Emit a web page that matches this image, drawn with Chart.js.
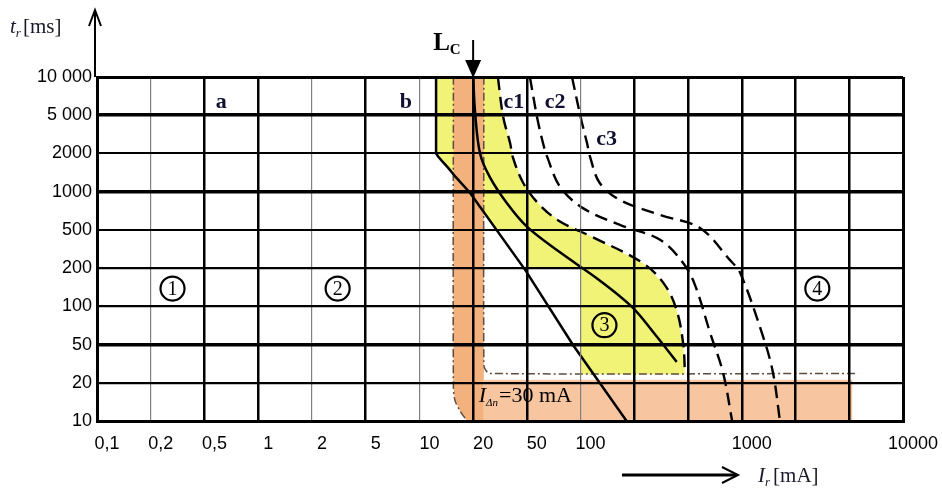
<!DOCTYPE html>
<html>
<head>
<meta charset="utf-8">
<script src="https://cdn.jsdelivr.net/npm/chart.js@4.4.1/dist/chart.umd.min.js"></script>
<style>
  html, body { margin: 0; padding: 0; background: #fff; }
  #wrap { width: 942px; height: 488px; }
</style>
</head>
<body>
<div id="wrap"><canvas id="chart" width="942" height="488"></canvas></div>
<script>
// grid steps (1-2-5 sequence, drawn evenly spaced)
const currentSteps = [0.1, 0.2, 0.5, 1, 2, 5, 10, 20, 50, 100, 200, 500, 1000, 2000, 5000, 10000];
const currentLabels = ['0,1', '0,2', '0,5', '1', '2', '5', '10', '20', '50', '100', '', '', '1000', '', '', '10000'];
const timeSteps = [10, 20, 50, 100, 200, 500, 1000, 2000, 5000, 10000];
const timeLabels = ['10', '20', '50', '100', '200', '500', '1000', '2000', '5 000', '10 000'];

// curves, [current mA, time ms]
const curveB = [[12.4, 10000], [12.4, 2000], [12.7, 1900], [13.4, 1740], [14.5, 1540], [16, 1300], [19.2, 980], [48.7, 193], [90.7, 49.5], [181, 10]];
const curveLc = [[20, 10000], [20.7, 5200], [22.5, 2000], [26.6, 1300], [35.6, 810], [50, 530], [77, 290], [128, 160], [194, 99], [285, 60], [412, 33]];
const curveC1 = [[30.5, 10000], [33.4, 4790], [37.6, 2550], [39.3, 1880], [47, 1170], [59, 785], [77, 580], [117, 420], [232, 225], [337, 147], [412, 93], [461, 50], [474, 25]];
const curveC2 = [[52, 10000], [57, 4790], [61.6, 2550], [65, 1880], [76.8, 1090], [103, 742], [166, 547], [310, 395], [461, 225], [547, 147], [665, 61.6], [785, 25.5], [883, 10]];
const curveC3 = [[89.5, 10000], [100, 4790], [108.7, 2550], [113, 1880], [128, 1170], [166, 860], [310, 655], [583, 518], [859, 242], [980, 183], [1320, 57], [1495, 25.5], [1636, 10]];

// zone 3 (between b and c1)
const zone3 = [[12.4, 10000], [30.5, 10000], [33.4, 4790], [37.6, 2550], [39.3, 1880], [47, 1170], [59, 785], [77, 580], [117, 420], [232, 225], [337, 147], [412, 93], [461, 50], [474, 24.5],
  [100, 24.5], [100, 200], [50, 200], [50, 500], [29.3, 500], [19.2, 980], [16, 1300], [14.5, 1540], [13.4, 1740], [12.7, 1900], [12.4, 2000]];

// RCD band, I_dn = 30 mA
const rcdVertical = [[15.5, 10000], [24, 10000], [24, 10], [18.5, 10], [16.9, 12], [15.8, 14.6], [15.5, 19]];
const rcdHorizontal = [[24, 21.5], [5200, 21.5], [5200, 10], [24, 10]];
const rcdOuter = [[15.5, 10000], [15.5, 19], [15.8, 14.6], [16.9, 12], [18.5, 10]];
const rcdInner = [[24, 10000], [24, 31], [24.6, 27.5], [26.6, 25], [5600, 25]];

// texts
const zoneNames = ['1', '2', '3', '4'];
const zoneX = [0.29, 3.1, 136, 2900];
const zoneY = [138, 138, 71, 138];
const curveNames = ['a', 'b', 'c1', 'c2', 'c3'];
const curveNameX = [0.62, 8.4, 40, 72, 140];
const curveNameY = [6600, 6600, 6600, 6600, 2970];
const lcCurrent = 20;

function stepIndex(v) {
  const d = Math.floor(Math.log10(v) + 1e-9);
  const m = v / Math.pow(10, d);
  let r;
  if (m < 2) r = Math.log(m) / Math.log(2);
  else if (m < 5) r = 1 + Math.log(m / 2) / Math.log(2.5);
  else r = 2 + Math.log(m / 5) / Math.log(2);
  return 3 * d + r;
}
function stepValue(i) {
  const d = Math.floor(i / 3);
  const r = i - 3 * d;
  const base = Math.pow(10, d);
  if (r < 1) return base * Math.pow(2, r);
  if (r < 2) return base * 2 * Math.pow(2.5, r - 1);
  return base * 5 * Math.pow(2, r - 2);
}

class Step125Scale extends Chart.LinearScale {
  static id = 'step125';
  static defaults = {};
  determineDataLimits() {
    this.min = this.options.min;
    this.max = this.options.max;
  }
  buildTicks() {
    const list = this.axis === 'x' ? currentSteps : timeSteps;
    this.start = this.min;
    this.end = this.max;
    return list.map(v => ({ value: v }));
  }
  getPixelForValue(v) {
    if (v === null || v === undefined) return NaN;
    const i0 = stepIndex(this.min), i1 = stepIndex(this.max);
    return this.getPixelForDecimal((stepIndex(v) - i0) / (i1 - i0));
  }
  getValueForPixel(p) {
    const i0 = stepIndex(this.min), i1 = stepIndex(this.max);
    return stepValue(i0 + this.getDecimalForPixel(p) * (i1 - i0));
  }
}
Chart.register(Step125Scale);

const pts = arr => arr.map(([x, y]) => ({ x, y }));

const xWeights = [3, 1.2, 2.5, 2.5, 1.2, 2.5, 1.2, 2.5, 2.5, 1.2, 2.5, 2.5, 2.5, 2.5, 2.5, 3];
const yWeights = [3, 2.2, 3.5, 2.2, 2.3, 2, 3.5, 2, 3.5, 3];
const tickFont = { family: 'Liberation Sans, Arial, sans-serif', size: 18 };
const serif = 'Liberation Serif, Times New Roman, serif';

function solid(data, order, tension) {
  return { data: pts(data), showLine: true, borderColor: '#000', borderWidth: 2.5, pointRadius: 0, tension, fill: false, order };
}
function dashed(data, order) {
  return { data: pts(data), showLine: true, borderColor: '#000', borderWidth: 2.4, borderDash: [13, 7], pointRadius: 0, tension: 0.35, fill: false, order };
}
function area(data, color, order) {
  return { data: pts(data), showLine: true, borderWidth: 0, borderColor: 'rgba(0,0,0,0)', backgroundColor: color, pointRadius: 0, tension: 0, fill: 'shape', order };
}
function dashDot(data, order) {
  return { data: pts(data), showLine: true, borderColor: '#5e4c40', borderWidth: 1.5, borderDash: [8, 3, 2, 3], pointRadius: 0, tension: 0.3, fill: false, order };
}

function textRuns(ctx, x, y, runs) {
  runs.forEach(r => {
    ctx.font = r.font;
    ctx.fillText(r.t, x, y + (r.dy || 0));
    x += ctx.measureText(r.t).width + (r.gap || 0);
  });
}

const decor = {
  id: 'decor',
  afterDraw(chart) {
    const { ctx, chartArea: a, scales: { x, y } } = chart;
    ctx.save();
    ctx.strokeStyle = '#000';
    ctx.fillStyle = '#000';
    ctx.lineCap = 'butt';

    // y axis arrow
    ctx.lineWidth = 2;
    ctx.beginPath();
    ctx.moveTo(a.left - 2, a.top);
    ctx.lineTo(a.left - 2, 11);
    ctx.stroke();
    ctx.beginPath();
    ctx.moveTo(a.left - 8, 26);
    ctx.lineTo(a.left - 2, 10);
    ctx.lineTo(a.left + 4, 26);
    ctx.stroke();

    // x axis arrow
    ctx.lineWidth = 3;
    ctx.beginPath();
    ctx.moveTo(622, 475);
    ctx.lineTo(736, 475);
    ctx.stroke();
    ctx.lineWidth = 2;
    ctx.beginPath();
    ctx.moveTo(722, 467);
    ctx.lineTo(738, 475);
    ctx.lineTo(722, 483);
    ctx.stroke();

    // axis titles
    ctx.textAlign = 'left';
    ctx.textBaseline = 'alphabetic';
    ctx.fillStyle = '#1a1a2a';
    textRuns(ctx, 10, 33, [
      { t: 't', font: 'italic 21px ' + serif },
      { t: 'r', font: 'italic 13px ' + serif, dy: 4, gap: 2 },
      { t: '[ms]', font: '21px ' + serif }
    ]);
    textRuns(ctx, 758, 482, [
      { t: 'I', font: 'italic 21px ' + serif },
      { t: 'r', font: 'italic 13px ' + serif, dy: 4, gap: 3 },
      { t: '[mA]', font: '21px ' + serif }
    ]);

    // L_C marker
    const lx = x.getPixelForValue(lcCurrent);
    ctx.fillStyle = '#000';
    ctx.lineWidth = 2;
    ctx.beginPath();
    ctx.moveTo(lx, 40);
    ctx.lineTo(lx, a.top - 14);
    ctx.stroke();
    ctx.beginPath();
    ctx.moveTo(lx - 8, a.top - 17);
    ctx.lineTo(lx + 8, a.top - 17);
    ctx.lineTo(lx, a.top + 1);
    ctx.closePath();
    ctx.fill();
    textRuns(ctx, lx - 40, 50, [
      { t: 'L', font: 'bold 25px ' + serif },
      { t: 'C', font: 'bold 15px ' + serif, dy: 4 }
    ]);

    // curve names
    ctx.textAlign = 'center';
    ctx.font = 'bold 22px ' + serif;
    ctx.fillStyle = '#101030';
    curveNames.forEach((n, i) => {
      ctx.fillText(n, x.getPixelForValue(curveNameX[i]), y.getPixelForValue(curveNameY[i]) + 8);
    });

    // zone numbers
    ctx.fillStyle = '#000';
    ctx.textBaseline = 'middle';
    zoneNames.forEach((n, i) => {
      const cx = x.getPixelForValue(zoneX[i]);
      const cy = y.getPixelForValue(zoneY[i]);
      ctx.lineWidth = 2.2;
      ctx.beginPath();
      ctx.arc(cx, cy, 12, 0, Math.PI * 2);
      ctx.stroke();
      ctx.font = '20px ' + serif;
      ctx.fillText(n, cx, cy + 1);
    });

    // rated residual current
    ctx.textAlign = 'left';
    ctx.textBaseline = 'alphabetic';
    textRuns(ctx, x.getPixelForValue(22), y.getPixelForValue(14), [
      { t: 'I', font: 'italic 22px ' + serif },
      { t: 'Δn', font: 'italic 11px ' + serif, dy: 4, gap: 1 },
      { t: '=30 mA', font: '22px ' + serif }
    ]);
    ctx.restore();
  }
};

new Chart(document.getElementById('chart'), {
  type: 'scatter',
  data: {
    datasets: [
      area(zone3, 'rgb(240,243,118)', 20),
      area(rcdVertical, 'rgb(243,177,125)', 19),
      area(rcdHorizontal, 'rgb(247,198,160)', 18),
      dashDot(rcdOuter, 6),
      dashDot(rcdInner, 6),
      solid(curveB, 2, 0),
      solid(curveLc, 2, 0.35),
      dashed(curveC1, 1),
      dashed(curveC2, 1),
      dashed(curveC3, 1)
    ]
  },
  options: {
    responsive: false,
    devicePixelRatio: 1,
    animation: false,
    events: [],
    layout: { padding: { left: 0, top: 77, right: 39, bottom: 0 } },
    plugins: { legend: { display: false }, tooltip: { enabled: false } },
    scales: {
      x: {
        type: 'step125',
        position: 'bottom',
        min: 0.1,
        max: 10000,
        grid: {
          z: 1,
          drawTicks: false,
          color: c => (xWeights[c.index] < 2 ? '#808080' : '#000'),
          lineWidth: c => xWeights[c.index]
        },
        border: { z: 1, color: '#000', width: 3 },
        ticks: {
          autoSkip: false,
          maxRotation: 0,
          padding: 12,
          labelOffset: 10,
          color: '#000',
          font: tickFont,
          callback: (v, i) => currentLabels[i]
        },
        afterFit: s => {
          s.height = 67;
          s.paddingLeft = 0;
          s.paddingRight = 0;
        }
      },
      y: {
        type: 'step125',
        position: 'left',
        min: 10,
        max: 10000,
        grid: {
          z: 1,
          drawTicks: false,
          color: '#000',
          lineWidth: c => yWeights[c.index]
        },
        border: { z: 1, color: '#000', width: 3 },
        ticks: {
          autoSkip: false,
          padding: 5,
          color: '#000',
          font: tickFont,
          callback: (v, i) => timeLabels[i]
        },
        afterFit: s => {
          s.width = 97;
          s.paddingTop = 0;
          s.paddingBottom = 0;
        }
      }
    }
  },
  plugins: [decor]
});
</script>
</body>
</html>
